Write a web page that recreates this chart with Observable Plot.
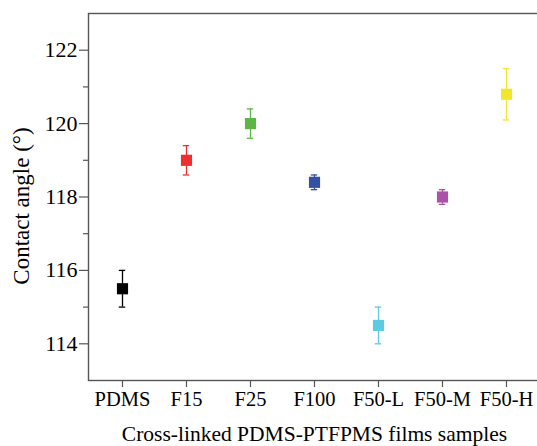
<!DOCTYPE html>
<html>
<head>
<meta charset="utf-8">
<script src="https://cdn.jsdelivr.net/npm/d3@7"></script>
<script src="https://cdn.jsdelivr.net/npm/@observablehq/plot@0.6"></script>
<style>
  html, body { margin: 0; padding: 0; background: #fff; overflow: hidden; }
  #chart svg { font-family: "Liberation Serif", "Times New Roman", serif; }
</style>
</head>
<body>
<div id="chart"></div>
<script>
const samples = ["PDMS", "F15", "F25", "F100", "F50-L", "F50-M", "F50-H"];
const angles  = [115.5, 119.0, 120.0, 118.4, 114.5, 118.0, 120.8];
const errLow  = [0.5, 0.4, 0.4, 0.2, 0.5, 0.2, 0.7];
const errHigh = [0.5, 0.4, 0.4, 0.2, 0.5, 0.2, 0.7];
const majorTicks = [114, 116, 118, 120, 122];
const minorTicks = [115, 117, 119, 121];
const palette = ["#000000", "#ec2f2f", "#5cb646", "#3350a3", "#5ccadf", "#ab52a7", "#f0e62e"];
const xTitle = "Cross-linked PDMS-PTFPMS films samples";
const yTitle = "Contact angle (°)";

const data = samples.map((s, i) => ({
  sample: s,
  angle: angles[i],
  lo: angles[i] - errLow[i],
  hi: angles[i] + errHigh[i]
}));

const capInset = 28.8;

const chart = Plot.plot({
  width: 537,
  height: 446,
  marginLeft: 88,
  marginRight: -3,
  marginTop: 13,
  marginBottom: 66,
  style: { fontFamily: "Liberation Serif, Times New Roman, serif", fontSize: "21px", background: "#fff", color: "#000" },
  x: { type: "band", domain: samples, padding: 0, label: null },
  y: { domain: [113, 123], label: null },
  color: { domain: samples, range: palette },
  marks: [
    Plot.frame({ stroke: "#555", strokeWidth: 1.4 }),
    Plot.axisY({ ticks: majorTicks, tickSize: 9, tickPadding: 2, fontSize: 22, fontFamily: "Liberation Serif", stroke: "#555", strokeWidth: 1.2, label: null }),
    Plot.axisY({ ticks: minorTicks, tickSize: 5, tickFormat: () => "", stroke: "#555", strokeWidth: 1.2, label: null }),
    Plot.axisX({ tickSize: 7, tickPadding: 4, fontSize: 20.5, fontFamily: "Liberation Serif", stroke: "#555", strokeWidth: 1.2, label: null }),
    Plot.ruleX(data, { x: "sample", y1: "lo", y2: "hi", stroke: "sample", strokeWidth: 1.3 }),
    Plot.tickY(data, { x: "sample", y: "lo", stroke: "sample", strokeWidth: 1.3, insetLeft: capInset, insetRight: capInset }),
    Plot.tickY(data, { x: "sample", y: "hi", stroke: "sample", strokeWidth: 1.3, insetLeft: capInset, insetRight: capInset }),
    Plot.dot(data, { x: "sample", y: "angle", symbol: "square", r: 6.3, fill: "sample", stroke: null }),
    Plot.text([xTitle], { frameAnchor: "bottom", textAnchor: "middle", lineAnchor: "middle", dy: 53.5, fontSize: 21.5, fontFamily: "Liberation Serif", fill: "#000", text: d => d }),
    Plot.text([yTitle], { frameAnchor: "left", textAnchor: "middle", lineAnchor: "middle", dx: -67, dy: 9, rotate: -90, fontSize: 23, fontFamily: "Liberation Serif", fill: "#000", text: d => d })
  ]
});
document.getElementById("chart").appendChild(chart);
</script>
</body>
</html>
